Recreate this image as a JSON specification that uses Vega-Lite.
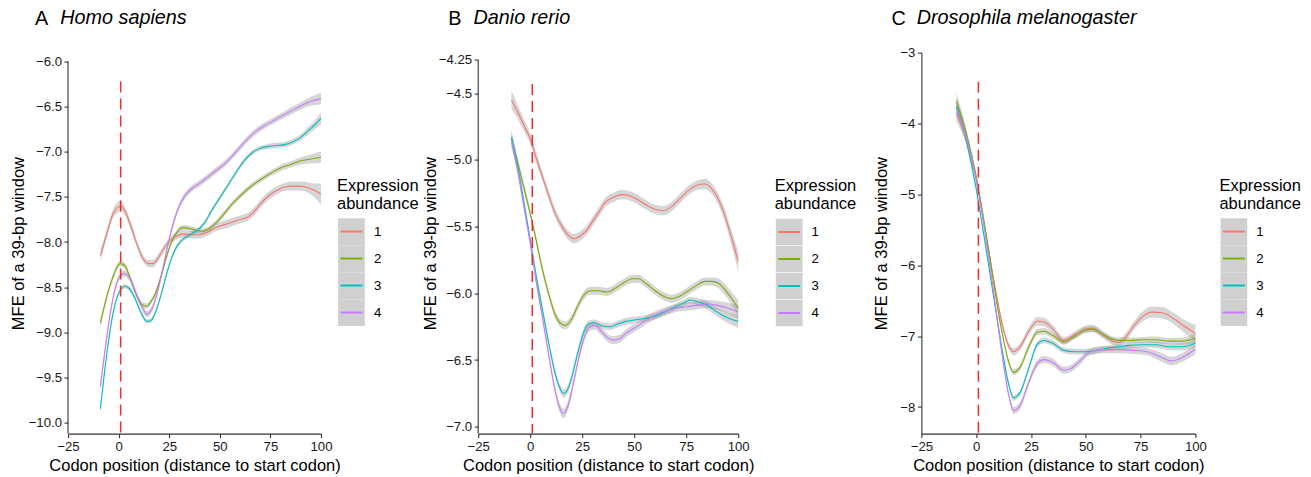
{
  "$schema": "https://vega.github.io/schema/vega-lite/v6.json",
  "padding": {"left": 10, "top": 7.6, "right": 5, "bottom": 0},
  "spacing": 3.2,
  "datasets": {
    "A": [
      {"g":"1","x":-9,"y":-8.15,"e":0.06},{"g":"1","x":-6,"y":-7.92,"e":0.05},{"g":"1","x":-3,"y":-7.70,"e":0.05},{"g":"1","x":0,"y":-7.61,"e":0.06},{"g":"1","x":1,"y":-7.60,"e":0.06},{"g":"1","x":3,"y":-7.65,"e":0.05},{"g":"1","x":6,"y":-7.82,"e":0.05},{"g":"1","x":9,"y":-8.02,"e":0.04},{"g":"1","x":12,"y":-8.18,"e":0.04},{"g":"1","x":15,"y":-8.24,"e":0.04},{"g":"1","x":17,"y":-8.24,"e":0.04},{"g":"1","x":20,"y":-8.16,"e":0.04},{"g":"1","x":23,"y":-8.05,"e":0.04},{"g":"1","x":26,"y":-7.97,"e":0.04},{"g":"1","x":29,"y":-7.93,"e":0.04},{"g":"1","x":32,"y":-7.91,"e":0.04},{"g":"1","x":36,"y":-7.92,"e":0.04},{"g":"1","x":40,"y":-7.92,"e":0.04},{"g":"1","x":44,"y":-7.89,"e":0.04},{"g":"1","x":48,"y":-7.84,"e":0.04},{"g":"1","x":52,"y":-7.81,"e":0.045},{"g":"1","x":56,"y":-7.78,"e":0.045},{"g":"1","x":60,"y":-7.75,"e":0.045},{"g":"1","x":64,"y":-7.72,"e":0.045},{"g":"1","x":67,"y":-7.66,"e":0.045},{"g":"1","x":70,"y":-7.58,"e":0.045},{"g":"1","x":74,"y":-7.49,"e":0.045},{"g":"1","x":78,"y":-7.43,"e":0.045},{"g":"1","x":82,"y":-7.39,"e":0.045},{"g":"1","x":86,"y":-7.38,"e":0.05},{"g":"1","x":90,"y":-7.38,"e":0.05},{"g":"1","x":94,"y":-7.40,"e":0.06},{"g":"1","x":97,"y":-7.43,"e":0.08},{"g":"1","x":100,"y":-7.47,"e":0.12},
      {"g":"2","x":-9,"y":-8.90,"e":0.05},{"g":"2","x":-6,"y":-8.62,"e":0.04},{"g":"2","x":-3,"y":-8.40,"e":0.035},{"g":"2","x":0,"y":-8.25,"e":0.035},{"g":"2","x":1,"y":-8.24,"e":0.035},{"g":"2","x":3,"y":-8.26,"e":0.03},{"g":"2","x":6,"y":-8.42,"e":0.03},{"g":"2","x":9,"y":-8.60,"e":0.03},{"g":"2","x":12,"y":-8.70,"e":0.03},{"g":"2","x":14,"y":-8.71,"e":0.03},{"g":"2","x":16,"y":-8.66,"e":0.03},{"g":"2","x":18,"y":-8.58,"e":0.03},{"g":"2","x":20,"y":-8.45,"e":0.03},{"g":"2","x":22,"y":-8.30,"e":0.03},{"g":"2","x":24,"y":-8.14,"e":0.03},{"g":"2","x":26,"y":-8.01,"e":0.03},{"g":"2","x":28,"y":-7.92,"e":0.03},{"g":"2","x":30,"y":-7.86,"e":0.03},{"g":"2","x":32,"y":-7.84,"e":0.03},{"g":"2","x":35,"y":-7.85,"e":0.03},{"g":"2","x":38,"y":-7.87,"e":0.03},{"g":"2","x":41,"y":-7.88,"e":0.03},{"g":"2","x":44,"y":-7.86,"e":0.03},{"g":"2","x":48,"y":-7.79,"e":0.03},{"g":"2","x":52,"y":-7.69,"e":0.03},{"g":"2","x":56,"y":-7.58,"e":0.03},{"g":"2","x":60,"y":-7.49,"e":0.03},{"g":"2","x":65,"y":-7.39,"e":0.03},{"g":"2","x":70,"y":-7.31,"e":0.03},{"g":"2","x":75,"y":-7.24,"e":0.03},{"g":"2","x":80,"y":-7.18,"e":0.035},{"g":"2","x":85,"y":-7.14,"e":0.035},{"g":"2","x":90,"y":-7.10,"e":0.04},{"g":"2","x":95,"y":-7.08,"e":0.05},{"g":"2","x":100,"y":-7.06,"e":0.065},
      {"g":"3","x":-9,"y":-9.85,"e":0.05},{"g":"3","x":-7,"y":-9.45,"e":0.04},{"g":"3","x":-5,"y":-9.10,"e":0.035},{"g":"3","x":-3,"y":-8.82,"e":0.03},{"g":"3","x":-1,"y":-8.63,"e":0.03},{"g":"3","x":1,"y":-8.53,"e":0.025},{"g":"3","x":3,"y":-8.49,"e":0.025},{"g":"3","x":5,"y":-8.51,"e":0.025},{"g":"3","x":8,"y":-8.62,"e":0.025},{"g":"3","x":11,"y":-8.78,"e":0.025},{"g":"3","x":14,"y":-8.88,"e":0.025},{"g":"3","x":16,"y":-8.87,"e":0.025},{"g":"3","x":18,"y":-8.79,"e":0.025},{"g":"3","x":20,"y":-8.66,"e":0.025},{"g":"3","x":22,"y":-8.50,"e":0.025},{"g":"3","x":24,"y":-8.33,"e":0.025},{"g":"3","x":26,"y":-8.19,"e":0.025},{"g":"3","x":28,"y":-8.08,"e":0.025},{"g":"3","x":30,"y":-8.01,"e":0.025},{"g":"3","x":33,"y":-7.95,"e":0.025},{"g":"3","x":36,"y":-7.91,"e":0.025},{"g":"3","x":40,"y":-7.85,"e":0.025},{"g":"3","x":43,"y":-7.77,"e":0.025},{"g":"3","x":46,"y":-7.65,"e":0.025},{"g":"3","x":50,"y":-7.51,"e":0.025},{"g":"3","x":54,"y":-7.37,"e":0.025},{"g":"3","x":58,"y":-7.23,"e":0.025},{"g":"3","x":62,"y":-7.10,"e":0.025},{"g":"3","x":66,"y":-7.01,"e":0.025},{"g":"3","x":70,"y":-6.96,"e":0.025},{"g":"3","x":74,"y":-6.94,"e":0.03},{"g":"3","x":78,"y":-6.93,"e":0.03},{"g":"3","x":82,"y":-6.92,"e":0.03},{"g":"3","x":86,"y":-6.89,"e":0.03},{"g":"3","x":90,"y":-6.84,"e":0.035},{"g":"3","x":94,"y":-6.76,"e":0.04},{"g":"3","x":97,"y":-6.70,"e":0.05},{"g":"3","x":100,"y":-6.63,"e":0.07},
      {"g":"4","x":-9,"y":-9.60,"e":0.06},{"g":"4","x":-7,"y":-9.25,"e":0.05},{"g":"4","x":-5,"y":-8.92,"e":0.04},{"g":"4","x":-3,"y":-8.65,"e":0.035},{"g":"4","x":-1,"y":-8.46,"e":0.035},{"g":"4","x":1,"y":-8.37,"e":0.035},{"g":"4","x":3,"y":-8.35,"e":0.035},{"g":"4","x":6,"y":-8.42,"e":0.035},{"g":"4","x":9,"y":-8.59,"e":0.035},{"g":"4","x":12,"y":-8.74,"e":0.035},{"g":"4","x":14,"y":-8.80,"e":0.035},{"g":"4","x":16,"y":-8.76,"e":0.035},{"g":"4","x":18,"y":-8.65,"e":0.035},{"g":"4","x":20,"y":-8.48,"e":0.035},{"g":"4","x":22,"y":-8.28,"e":0.035},{"g":"4","x":24,"y":-8.07,"e":0.035},{"g":"4","x":26,"y":-7.88,"e":0.035},{"g":"4","x":28,"y":-7.72,"e":0.035},{"g":"4","x":30,"y":-7.60,"e":0.035},{"g":"4","x":33,"y":-7.48,"e":0.035},{"g":"4","x":36,"y":-7.41,"e":0.035},{"g":"4","x":40,"y":-7.35,"e":0.035},{"g":"4","x":44,"y":-7.28,"e":0.035},{"g":"4","x":48,"y":-7.21,"e":0.035},{"g":"4","x":52,"y":-7.14,"e":0.035},{"g":"4","x":56,"y":-7.05,"e":0.035},{"g":"4","x":60,"y":-6.95,"e":0.035},{"g":"4","x":64,"y":-6.85,"e":0.035},{"g":"4","x":68,"y":-6.77,"e":0.035},{"g":"4","x":72,"y":-6.71,"e":0.035},{"g":"4","x":76,"y":-6.66,"e":0.035},{"g":"4","x":80,"y":-6.61,"e":0.035},{"g":"4","x":85,"y":-6.55,"e":0.04},{"g":"4","x":90,"y":-6.49,"e":0.04},{"g":"4","x":95,"y":-6.44,"e":0.05},{"g":"4","x":100,"y":-6.41,"e":0.065}
    ],
    "B": [
      {"g":"1","x":-9,"y":-4.55,"e":0.07},{"g":"1","x":-6,"y":-4.64,"e":0.05},{"g":"1","x":-3,"y":-4.74,"e":0.045},{"g":"1","x":0,"y":-4.84,"e":0.04},{"g":"1","x":3,"y":-4.99,"e":0.04},{"g":"1","x":6,"y":-5.13,"e":0.035},{"g":"1","x":9,"y":-5.27,"e":0.035},{"g":"1","x":12,"y":-5.40,"e":0.035},{"g":"1","x":15,"y":-5.49,"e":0.035},{"g":"1","x":18,"y":-5.56,"e":0.035},{"g":"1","x":21,"y":-5.59,"e":0.035},{"g":"1","x":24,"y":-5.57,"e":0.035},{"g":"1","x":27,"y":-5.53,"e":0.035},{"g":"1","x":30,"y":-5.46,"e":0.035},{"g":"1","x":33,"y":-5.39,"e":0.035},{"g":"1","x":36,"y":-5.32,"e":0.035},{"g":"1","x":40,"y":-5.28,"e":0.035},{"g":"1","x":44,"y":-5.26,"e":0.035},{"g":"1","x":48,"y":-5.27,"e":0.035},{"g":"1","x":52,"y":-5.30,"e":0.035},{"g":"1","x":56,"y":-5.34,"e":0.035},{"g":"1","x":60,"y":-5.37,"e":0.035},{"g":"1","x":64,"y":-5.38,"e":0.035},{"g":"1","x":68,"y":-5.35,"e":0.035},{"g":"1","x":72,"y":-5.29,"e":0.035},{"g":"1","x":76,"y":-5.23,"e":0.035},{"g":"1","x":80,"y":-5.19,"e":0.035},{"g":"1","x":84,"y":-5.18,"e":0.04},{"g":"1","x":87,"y":-5.21,"e":0.04},{"g":"1","x":90,"y":-5.28,"e":0.04},{"g":"1","x":93,"y":-5.39,"e":0.045},{"g":"1","x":96,"y":-5.54,"e":0.05},{"g":"1","x":98,"y":-5.65,"e":0.06},{"g":"1","x":100,"y":-5.76,"e":0.08},
      {"g":"2","x":-9,"y":-4.84,"e":0.05},{"g":"2","x":-6,"y":-5.02,"e":0.04},{"g":"2","x":-3,"y":-5.21,"e":0.035},{"g":"2","x":0,"y":-5.40,"e":0.03},{"g":"2","x":3,"y":-5.61,"e":0.03},{"g":"2","x":6,"y":-5.83,"e":0.03},{"g":"2","x":9,"y":-6.01,"e":0.03},{"g":"2","x":12,"y":-6.16,"e":0.03},{"g":"2","x":15,"y":-6.23,"e":0.03},{"g":"2","x":17,"y":-6.24,"e":0.03},{"g":"2","x":20,"y":-6.19,"e":0.03},{"g":"2","x":23,"y":-6.09,"e":0.03},{"g":"2","x":26,"y":-6.01,"e":0.03},{"g":"2","x":29,"y":-5.98,"e":0.03},{"g":"2","x":33,"y":-5.98,"e":0.03},{"g":"2","x":37,"y":-5.99,"e":0.03},{"g":"2","x":41,"y":-5.96,"e":0.03},{"g":"2","x":45,"y":-5.92,"e":0.03},{"g":"2","x":49,"y":-5.89,"e":0.03},{"g":"2","x":52,"y":-5.89,"e":0.03},{"g":"2","x":56,"y":-5.93,"e":0.03},{"g":"2","x":60,"y":-5.98,"e":0.03},{"g":"2","x":64,"y":-6.02,"e":0.03},{"g":"2","x":68,"y":-6.04,"e":0.03},{"g":"2","x":72,"y":-6.02,"e":0.03},{"g":"2","x":76,"y":-5.98,"e":0.03},{"g":"2","x":80,"y":-5.94,"e":0.03},{"g":"2","x":84,"y":-5.91,"e":0.03},{"g":"2","x":87,"y":-5.91,"e":0.03},{"g":"2","x":90,"y":-5.92,"e":0.035},{"g":"2","x":93,"y":-5.96,"e":0.04},{"g":"2","x":96,"y":-6.02,"e":0.045},{"g":"2","x":100,"y":-6.11,"e":0.06},
      {"g":"3","x":-9,"y":-4.83,"e":0.05},{"g":"3","x":-6,"y":-5.05,"e":0.04},{"g":"3","x":-3,"y":-5.32,"e":0.035},{"g":"3","x":0,"y":-5.60,"e":0.03},{"g":"3","x":3,"y":-5.88,"e":0.03},{"g":"3","x":6,"y":-6.13,"e":0.03},{"g":"3","x":9,"y":-6.38,"e":0.03},{"g":"3","x":12,"y":-6.60,"e":0.03},{"g":"3","x":14,"y":-6.70,"e":0.03},{"g":"3","x":16,"y":-6.75,"e":0.03},{"g":"3","x":18,"y":-6.72,"e":0.03},{"g":"3","x":20,"y":-6.63,"e":0.03},{"g":"3","x":22,"y":-6.50,"e":0.03},{"g":"3","x":24,"y":-6.38,"e":0.03},{"g":"3","x":26,"y":-6.28,"e":0.03},{"g":"3","x":28,"y":-6.23,"e":0.025},{"g":"3","x":31,"y":-6.22,"e":0.025},{"g":"3","x":34,"y":-6.24,"e":0.025},{"g":"3","x":38,"y":-6.25,"e":0.025},{"g":"3","x":42,"y":-6.23,"e":0.025},{"g":"3","x":46,"y":-6.21,"e":0.025},{"g":"3","x":50,"y":-6.20,"e":0.025},{"g":"3","x":54,"y":-6.19,"e":0.025},{"g":"3","x":58,"y":-6.18,"e":0.025},{"g":"3","x":62,"y":-6.16,"e":0.025},{"g":"3","x":66,"y":-6.13,"e":0.025},{"g":"3","x":70,"y":-6.10,"e":0.025},{"g":"3","x":74,"y":-6.07,"e":0.025},{"g":"3","x":77,"y":-6.05,"e":0.025},{"g":"3","x":80,"y":-6.06,"e":0.025},{"g":"3","x":84,"y":-6.08,"e":0.03},{"g":"3","x":88,"y":-6.12,"e":0.03},{"g":"3","x":92,"y":-6.16,"e":0.035},{"g":"3","x":96,"y":-6.19,"e":0.04},{"g":"3","x":100,"y":-6.21,"e":0.05},
      {"g":"4","x":-9,"y":-4.86,"e":0.05},{"g":"4","x":-6,"y":-5.08,"e":0.04},{"g":"4","x":-3,"y":-5.35,"e":0.035},{"g":"4","x":0,"y":-5.62,"e":0.03},{"g":"4","x":3,"y":-5.92,"e":0.03},{"g":"4","x":6,"y":-6.19,"e":0.03},{"g":"4","x":9,"y":-6.47,"e":0.03},{"g":"4","x":12,"y":-6.73,"e":0.03},{"g":"4","x":14,"y":-6.85,"e":0.035},{"g":"4","x":16,"y":-6.90,"e":0.035},{"g":"4","x":18,"y":-6.85,"e":0.035},{"g":"4","x":20,"y":-6.73,"e":0.035},{"g":"4","x":22,"y":-6.58,"e":0.03},{"g":"4","x":24,"y":-6.44,"e":0.03},{"g":"4","x":26,"y":-6.33,"e":0.03},{"g":"4","x":28,"y":-6.26,"e":0.03},{"g":"4","x":31,"y":-6.24,"e":0.03},{"g":"4","x":34,"y":-6.28,"e":0.03},{"g":"4","x":37,"y":-6.33,"e":0.03},{"g":"4","x":40,"y":-6.35,"e":0.03},{"g":"4","x":43,"y":-6.34,"e":0.03},{"g":"4","x":46,"y":-6.30,"e":0.03},{"g":"4","x":50,"y":-6.26,"e":0.03},{"g":"4","x":54,"y":-6.22,"e":0.03},{"g":"4","x":58,"y":-6.18,"e":0.03},{"g":"4","x":62,"y":-6.15,"e":0.03},{"g":"4","x":66,"y":-6.13,"e":0.03},{"g":"4","x":70,"y":-6.11,"e":0.03},{"g":"4","x":75,"y":-6.10,"e":0.03},{"g":"4","x":80,"y":-6.09,"e":0.03},{"g":"4","x":85,"y":-6.08,"e":0.03},{"g":"4","x":90,"y":-6.09,"e":0.035},{"g":"4","x":95,"y":-6.11,"e":0.04},{"g":"4","x":100,"y":-6.14,"e":0.05}
    ],
    "C": [
      {"g":"1","x":-9,"y":-3.85,"e":0.12},{"g":"1","x":-6,"y":-4.08,"e":0.09},{"g":"1","x":-3,"y":-4.38,"e":0.07},{"g":"1","x":0,"y":-4.78,"e":0.06},{"g":"1","x":3,"y":-5.30,"e":0.055},{"g":"1","x":6,"y":-5.85,"e":0.05},{"g":"1","x":9,"y":-6.38,"e":0.05},{"g":"1","x":12,"y":-6.85,"e":0.05},{"g":"1","x":15,"y":-7.15,"e":0.05},{"g":"1","x":17,"y":-7.22,"e":0.05},{"g":"1","x":20,"y":-7.15,"e":0.05},{"g":"1","x":24,"y":-6.93,"e":0.055},{"g":"1","x":28,"y":-6.79,"e":0.06},{"g":"1","x":31,"y":-6.80,"e":0.06},{"g":"1","x":35,"y":-6.90,"e":0.055},{"g":"1","x":40,"y":-7.06,"e":0.05},{"g":"1","x":45,"y":-6.98,"e":0.05},{"g":"1","x":50,"y":-6.90,"e":0.05},{"g":"1","x":53,"y":-6.89,"e":0.05},{"g":"1","x":58,"y":-6.98,"e":0.05},{"g":"1","x":62,"y":-7.07,"e":0.05},{"g":"1","x":65,"y":-7.09,"e":0.05},{"g":"1","x":68,"y":-7.02,"e":0.055},{"g":"1","x":72,"y":-6.85,"e":0.06},{"g":"1","x":76,"y":-6.72,"e":0.07},{"g":"1","x":80,"y":-6.66,"e":0.08},{"g":"1","x":85,"y":-6.67,"e":0.08},{"g":"1","x":90,"y":-6.75,"e":0.08},{"g":"1","x":95,"y":-6.86,"e":0.09},{"g":"1","x":100,"y":-6.96,"e":0.12},
      {"g":"2","x":-9,"y":-3.69,"e":0.12},{"g":"2","x":-6,"y":-3.97,"e":0.08},{"g":"2","x":-3,"y":-4.33,"e":0.06},{"g":"2","x":0,"y":-4.75,"e":0.05},{"g":"2","x":3,"y":-5.27,"e":0.045},{"g":"2","x":6,"y":-5.85,"e":0.04},{"g":"2","x":9,"y":-6.45,"e":0.04},{"g":"2","x":12,"y":-6.98,"e":0.04},{"g":"2","x":15,"y":-7.38,"e":0.04},{"g":"2","x":17,"y":-7.51,"e":0.04},{"g":"2","x":20,"y":-7.44,"e":0.04},{"g":"2","x":24,"y":-7.15,"e":0.045},{"g":"2","x":28,"y":-6.94,"e":0.045},{"g":"2","x":31,"y":-6.93,"e":0.045},{"g":"2","x":35,"y":-6.99,"e":0.04},{"g":"2","x":40,"y":-7.08,"e":0.04},{"g":"2","x":45,"y":-7.00,"e":0.04},{"g":"2","x":50,"y":-6.91,"e":0.04},{"g":"2","x":53,"y":-6.90,"e":0.04},{"g":"2","x":58,"y":-6.98,"e":0.04},{"g":"2","x":62,"y":-7.04,"e":0.04},{"g":"2","x":65,"y":-7.06,"e":0.04},{"g":"2","x":70,"y":-7.06,"e":0.04},{"g":"2","x":76,"y":-7.05,"e":0.04},{"g":"2","x":82,"y":-7.05,"e":0.045},{"g":"2","x":88,"y":-7.07,"e":0.045},{"g":"2","x":94,"y":-7.07,"e":0.05},{"g":"2","x":100,"y":-7.03,"e":0.07},
      {"g":"3","x":-9,"y":-3.76,"e":0.12},{"g":"3","x":-6,"y":-4.05,"e":0.08},{"g":"3","x":-3,"y":-4.45,"e":0.06},{"g":"3","x":0,"y":-4.92,"e":0.05},{"g":"3","x":3,"y":-5.48,"e":0.04},{"g":"3","x":6,"y":-6.06,"e":0.04},{"g":"3","x":9,"y":-6.65,"e":0.04},{"g":"3","x":12,"y":-7.22,"e":0.04},{"g":"3","x":15,"y":-7.70,"e":0.04},{"g":"3","x":17,"y":-7.87,"e":0.04},{"g":"3","x":20,"y":-7.80,"e":0.04},{"g":"3","x":24,"y":-7.45,"e":0.04},{"g":"3","x":28,"y":-7.11,"e":0.04},{"g":"3","x":31,"y":-7.06,"e":0.04},{"g":"3","x":35,"y":-7.10,"e":0.04},{"g":"3","x":40,"y":-7.20,"e":0.04},{"g":"3","x":45,"y":-7.22,"e":0.04},{"g":"3","x":50,"y":-7.22,"e":0.04},{"g":"3","x":55,"y":-7.20,"e":0.04},{"g":"3","x":60,"y":-7.17,"e":0.04},{"g":"3","x":65,"y":-7.15,"e":0.04},{"g":"3","x":70,"y":-7.13,"e":0.04},{"g":"3","x":76,"y":-7.12,"e":0.04},{"g":"3","x":82,"y":-7.12,"e":0.045},{"g":"3","x":88,"y":-7.15,"e":0.045},{"g":"3","x":94,"y":-7.15,"e":0.05},{"g":"3","x":100,"y":-7.10,"e":0.06},
      {"g":"4","x":-9,"y":-3.79,"e":0.12},{"g":"4","x":-6,"y":-4.05,"e":0.08},{"g":"4","x":-3,"y":-4.38,"e":0.06},{"g":"4","x":0,"y":-4.78,"e":0.05},{"g":"4","x":3,"y":-5.33,"e":0.045},{"g":"4","x":6,"y":-5.95,"e":0.045},{"g":"4","x":9,"y":-6.62,"e":0.045},{"g":"4","x":12,"y":-7.30,"e":0.045},{"g":"4","x":15,"y":-7.85,"e":0.05},{"g":"4","x":17,"y":-8.05,"e":0.05},{"g":"4","x":20,"y":-7.98,"e":0.05},{"g":"4","x":24,"y":-7.65,"e":0.05},{"g":"4","x":28,"y":-7.38,"e":0.05},{"g":"4","x":31,"y":-7.33,"e":0.05},{"g":"4","x":35,"y":-7.37,"e":0.05},{"g":"4","x":40,"y":-7.48,"e":0.05},{"g":"4","x":43,"y":-7.46,"e":0.05},{"g":"4","x":47,"y":-7.36,"e":0.05},{"g":"4","x":52,"y":-7.22,"e":0.05},{"g":"4","x":58,"y":-7.19,"e":0.05},{"g":"4","x":65,"y":-7.19,"e":0.05},{"g":"4","x":72,"y":-7.20,"e":0.05},{"g":"4","x":78,"y":-7.22,"e":0.05},{"g":"4","x":84,"y":-7.29,"e":0.06},{"g":"4","x":89,"y":-7.35,"e":0.06},{"g":"4","x":94,"y":-7.30,"e":0.06},{"g":"4","x":100,"y":-7.18,"e":0.07}
    ]
  },
  "hconcat": [
    {
      "width": 253, "height": 381,
      "title": {"text": "A", "subtitle": "\u200b\u00a0\u00a0\u00a0\u00a0\u2006Homo sapiens", "dx": -33, "offset": 24},
      "layer": [
        {
          "data": {"name": "A"},
          "mark": {"type": "errorband", "color": "#999999", "opacity": 0.4, "interpolate": "monotone"},
          "encoding": {
            "x": {"field": "x", "type": "quantitative", "scale": {"domain": [-25, 100], "nice": false}, "axis": {"title": "Codon position (distance to start codon)", "values": [-25, 0, 25, 50, 75, 100]}},
            "y": {"field": "y", "type": "quantitative", "scale": {"domain": [-10.124, -5.9], "nice": false, "zero": false}, "axis": {"title": "MFE of a 39-bp window", "values": [-10, -9.5, -9, -8.5, -8, -7.5, -7, -6.5, -6], "format": ".1f", "titlePadding": 2, "domain": false}},
            "yError": {"field": "e"},
            "detail": {"field": "g"}
          }
        },
        {
          "data": {"name": "A"},
          "mark": {"type": "line", "strokeWidth": 1.1, "interpolate": "monotone"},
          "encoding": {
            "x": {"field": "x", "type": "quantitative"},
            "y": {"field": "y", "type": "quantitative"},
            "color": {"field": "g", "type": "nominal", "scale": {"domain": ["1", "2", "3", "4"], "range": ["#F8766D", "#7CAE00", "#00BFC4", "#C77CFF"]},
              "legend": {"title": ["", "Expression", "abundance"], "offset": 12.8, "padding": 0, "clipHeight": 27, "rowPadding": 0, "symbolSize": 713, "symbolStrokeWidth": 2, "symbolDash": [21.9, 200], "labelOffset": 7.9}}
          }
        },
        {
          "data": {"values": [{}]},
          "mark": {"type": "rule", "color": "#333333", "strokeWidth": 1.1},
          "encoding": {"x": {"datum": -25}, "y": {"datum": -6}, "y2": {"datum": -10.124}}
        },
        {
          "data": {"values": [{}]},
          "mark": {"type": "rule", "color": "#EE2A2A", "strokeDash": [11, 6], "strokeWidth": 1.5},
          "encoding": {"x": {"datum": 1}, "y": {"datum": -6.22}, "y2": {"datum": -10.124}}
        }
      ]
    },
    {
      "width": 260, "height": 381,
      "title": {"text": "B", "subtitle": "\u200b\u00a0\u00a0\u00a0\u00a0\u2006Danio rerio", "dx": -30, "offset": 24},
      "layer": [
        {
          "data": {"name": "B"},
          "mark": {"type": "errorband", "color": "#999999", "opacity": 0.4, "interpolate": "monotone"},
          "encoding": {
            "x": {"field": "x", "type": "quantitative", "scale": {"domain": [-25, 100], "nice": false}, "axis": {"title": "Codon position (distance to start codon)", "values": [-25, 0, 25, 50, 75, 100]}},
            "y": {"field": "y", "type": "quantitative", "scale": {"domain": [-7.051, -4.195], "nice": false, "zero": false}, "axis": {"title": "MFE of a 39-bp window", "values": [-7, -6.5, -6, -5.5, -5, -4.5, -4.25], "labelExpr": "datum.value == -4.25 ? '\u22124.25' : format(datum.value, '.1f')", "titlePadding": 0, "domain": false}},
            "yError": {"field": "e"},
            "detail": {"field": "g"}
          }
        },
        {
          "data": {"name": "B"},
          "mark": {"type": "line", "strokeWidth": 1.1, "interpolate": "monotone"},
          "encoding": {
            "x": {"field": "x", "type": "quantitative"},
            "y": {"field": "y", "type": "quantitative"},
            "color": {"field": "g", "type": "nominal", "scale": {"domain": ["1", "2", "3", "4"], "range": ["#F8766D", "#7CAE00", "#00BFC4", "#C77CFF"]},
              "legend": {"title": ["", "Expression", "abundance"], "offset": 19.5, "padding": 13.5, "clipHeight": 27, "rowPadding": 0, "symbolSize": 713, "symbolStrokeWidth": 2, "symbolDash": [21.9, 200], "labelOffset": 7.9}}
          }
        },
        {
          "data": {"values": [{}]},
          "mark": {"type": "rule", "color": "#333333", "strokeWidth": 1.1},
          "encoding": {"x": {"datum": -25}, "y": {"datum": -4.25}, "y2": {"datum": -7.051}}
        },
        {
          "data": {"values": [{}]},
          "mark": {"type": "rule", "color": "#EE2A2A", "strokeDash": [11, 6], "strokeWidth": 1.5},
          "encoding": {"x": {"datum": 1}, "y": {"datum": -4.43}, "y2": {"datum": -7.051}}
        }
      ]
    },
    {
      "width": 274, "height": 381,
      "title": {"text": "C", "subtitle": "\u200b\u00a0\u00a0\u00a0\u00a0\u2006Drosophila melanogaster", "dx": -30, "offset": 17},
      "layer": [
        {
          "data": {"name": "C"},
          "mark": {"type": "errorband", "color": "#999999", "opacity": 0.4, "interpolate": "monotone"},
          "encoding": {
            "x": {"field": "x", "type": "quantitative", "scale": {"domain": [-25, 100], "nice": false}, "axis": {"title": "Codon position (distance to start codon)", "values": [-25, 0, 25, 50, 75, 100]}},
            "y": {"field": "y", "type": "quantitative", "scale": {"domain": [-8.374, -3], "nice": false, "zero": false}, "axis": {"title": "MFE of a 39-bp window", "values": [-8, -7, -6, -5, -4, -3], "format": "d", "titlePadding": 10}},
            "yError": {"field": "e"},
            "detail": {"field": "g"}
          }
        },
        {
          "data": {"name": "C"},
          "mark": {"type": "line", "strokeWidth": 1.1, "interpolate": "monotone"},
          "encoding": {
            "x": {"field": "x", "type": "quantitative"},
            "y": {"field": "y", "type": "quantitative"},
            "color": {"field": "g", "type": "nominal", "scale": {"domain": ["1", "2", "3", "4"], "range": ["#F8766D", "#7CAE00", "#00BFC4", "#C77CFF"]},
              "legend": {"title": ["", "Expression", "abundance"], "offset": 20.6, "padding": 0, "clipHeight": 27, "rowPadding": 0, "symbolSize": 713, "symbolStrokeWidth": 2, "symbolDash": [21.9, 200], "labelOffset": 7.9}}
          }
        },
        {
          "data": {"values": [{}]},
          "mark": {"type": "rule", "color": "#EE2A2A", "strokeDash": [11, 6], "strokeWidth": 1.5},
          "encoding": {"x": {"datum": 1}, "y": {"datum": -3.41}, "y2": {"datum": -8.374}}
        }
      ]
    }
  ],
  "resolve": {"scale": {"color": "independent"}, "legend": {"color": "independent"}},
  "config": {
    "font": "Liberation Sans",
    "view": {"stroke": null},
    "axis": {
      "grid": false, "domainColor": "#333333", "domainWidth": 1.1, "tickColor": "#333333", "tickWidth": 1.1, "tickSize": 4,
      "labelFont": "Liberation Sans", "labelFontSize": 13.2, "labelColor": "#1a1a1a", "labelPadding": 2.5,
      "titleFont": "Liberation Sans", "titleFontSize": 16.5, "titleFontWeight": "normal", "titleColor": "#000000", "titlePadding": 5
    },
    "axisX": {"labelFlush": false, "labelOverlap": false},
    "axisY": {"labelOverlap": false},
    "legend": {
      "orient": "right",
      "layout": {"right": {"anchor": "middle"}},
      "symbolType": "M-0.82,0L0.82,0L1,0L1,-1L-1,-1L-1,1L1,1L1,0Z",
      "symbolSize": 713, "symbolStrokeWidth": 2, "symbolDash": [21.9, 200], "rowPadding": 0, "labelOffset": 7.9,
      "labelFont": "Liberation Sans", "labelFontSize": 13.2, "labelColor": "#000000",
      "titleFont": "Liberation Sans", "titleFontSize": 16.5, "titleFontWeight": "normal", "titleColor": "#000000", "titleLineHeight": 18, "titlePadding": 6,
      "symbolFillColor": "#d0d0d0"
    },
    "title": {
      "font": "Liberation Sans", "fontSize": 19.8, "fontWeight": "normal", "color": "#000000", "anchor": "start", "frame": "group", "baseline": "top", "lineHeight": 20,
      "subtitleFont": "Liberation Sans", "subtitleFontSize": 19.8, "subtitleFontStyle": "italic", "subtitleColor": "#000000", "subtitleLineHeight": 20, "subtitlePadding": -20
    }
  }
}
